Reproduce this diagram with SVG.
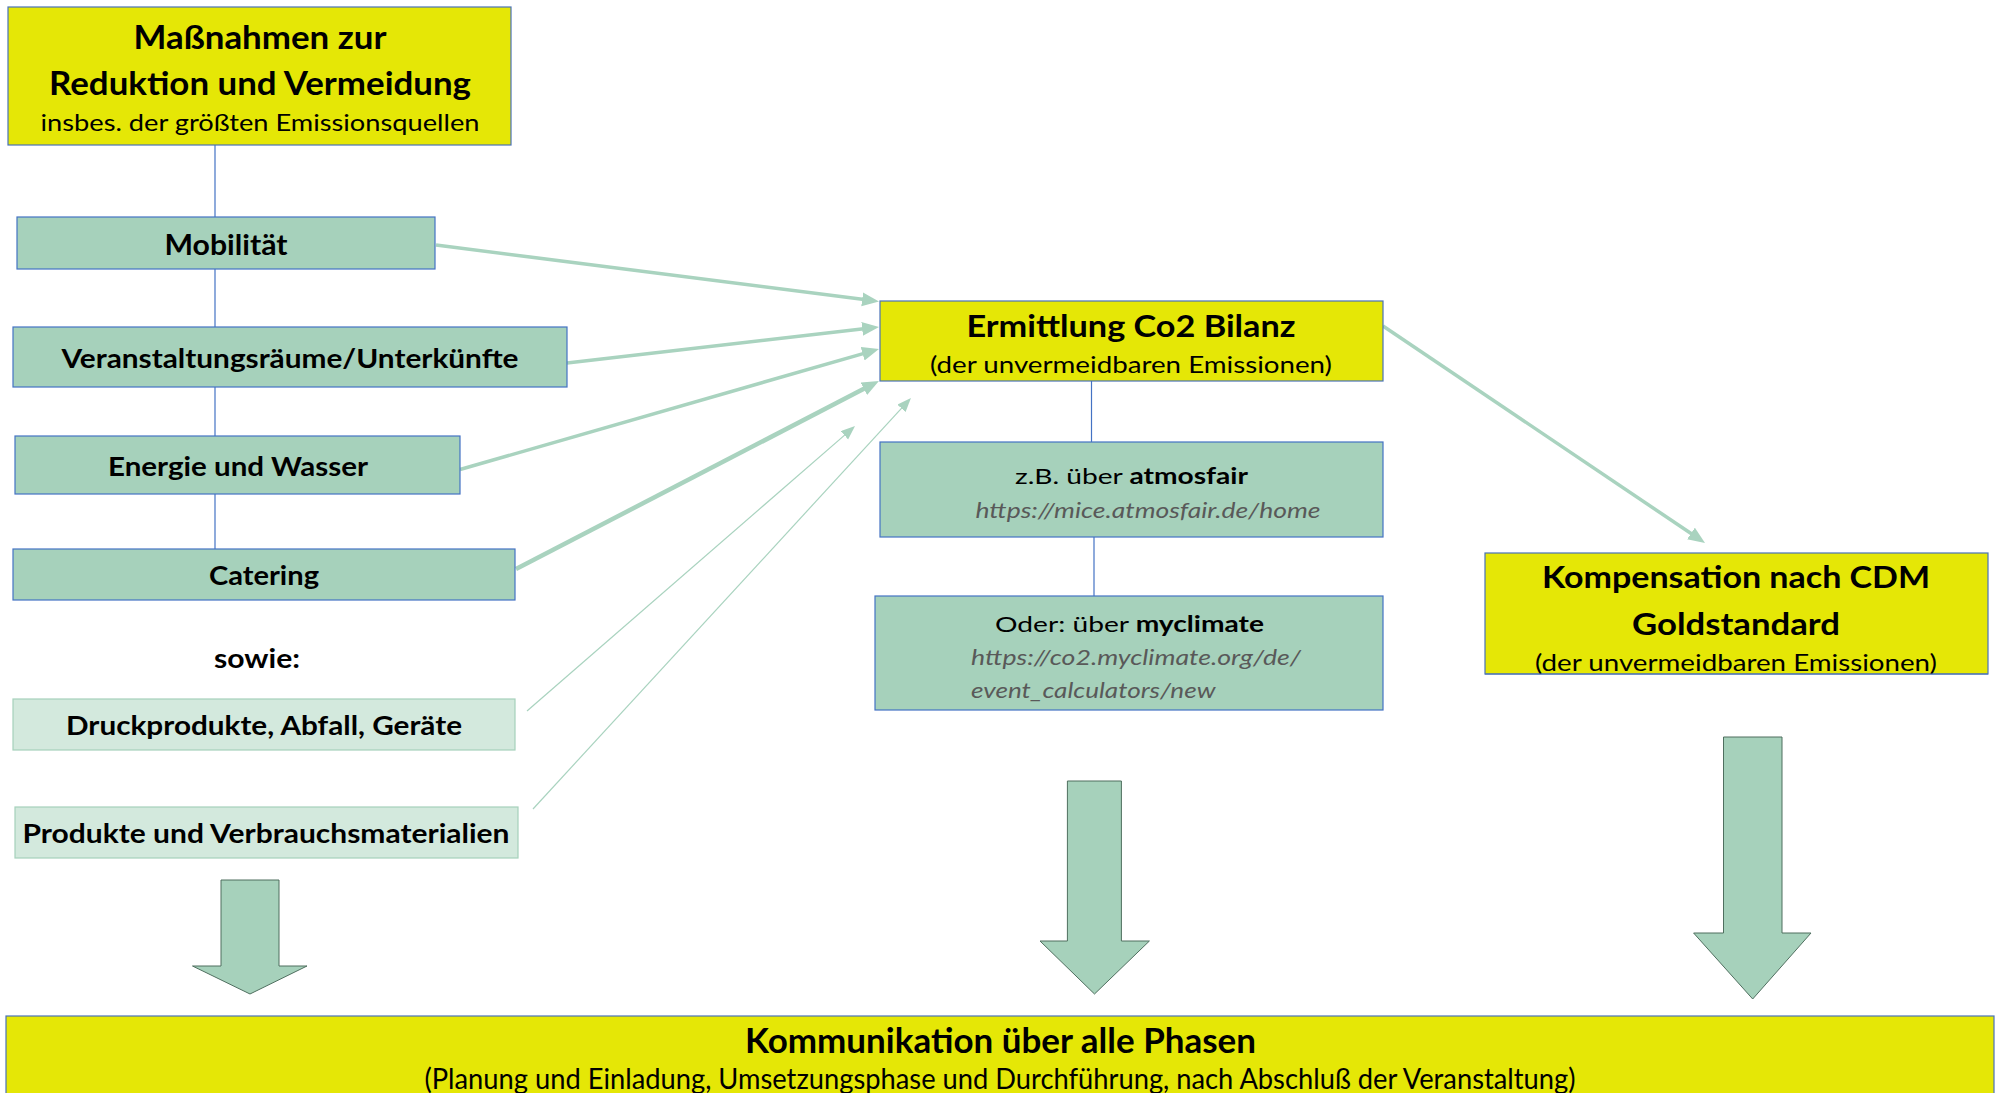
<svg xmlns="http://www.w3.org/2000/svg" width="1997" height="1093" viewBox="0 0 1997 1093">
<style>
text{font-family:Lato,"Liberation Sans",sans-serif;fill:#000;text-anchor:middle}
.b{font-weight:bold}
.y{fill:#E5E706;stroke:#4A72B8;stroke-width:1.2}
.g{fill:#A6D1BB;stroke:#4472C4;stroke-width:1.2}
.lg{fill:#D3E9DD;stroke:#A6D1BB;stroke-width:1.2}
.vl{stroke:#4472C4;stroke-width:1.2;fill:none}
.ar{stroke:#A9D3BF;fill:none}
.blk{fill:#A6D1BB;stroke:#4F6F5F;stroke-width:1}
.url{font-style:italic;fill:#595959}
</style>
<defs>
<marker id="ah" markerUnits="userSpaceOnUse" markerWidth="18" markerHeight="15" refX="6" refY="7" orient="auto"><path d="M0,0 L17,7 L0,14 z" fill="#A9D3BF"/></marker>
<marker id="ahs" markerUnits="userSpaceOnUse" markerWidth="15" markerHeight="12" refX="4" refY="5.5" orient="auto"><path d="M0,0 L14,5.5 L0,11 z" fill="#A9D3BF"/></marker>
<clipPath id="kclip"><rect x="1485" y="553" width="503" height="121"/></clipPath>
</defs>

<g id="connectors">
<line class="vl" x1="215" y1="145" x2="215" y2="549"/>
<line class="vl" x1="1091.5" y1="381" x2="1091.5" y2="442"/>
<line class="vl" x1="1094" y1="537" x2="1094" y2="596"/>
<line class="ar" stroke-width="3.5" x1="436" y1="245" x2="868.1" y2="300.1" marker-end="url(#ah)"/>
<line class="ar" stroke-width="3.5" x1="567" y1="363" x2="868.1" y2="328.2" marker-end="url(#ah)"/>
<line class="ar" stroke-width="3.5" x1="460" y1="469.5" x2="868.4" y2="352.1" marker-end="url(#ah)"/>
<line class="ar" stroke-width="4.5" x1="516" y1="569" x2="869.2" y2="386.1" marker-end="url(#ah)"/>
<line class="ar" stroke-width="1.2" x1="527" y1="711" x2="847.5" y2="432.6" marker-end="url(#ahs)"/>
<line class="ar" stroke-width="1.2" x1="533" y1="809" x2="904.2" y2="405.4" marker-end="url(#ahs)"/>
<line class="ar" stroke-width="3.5" x1="1383" y1="326" x2="1695.9" y2="536.8" marker-end="url(#ah)"/>
<polygon class="blk" points="221,880 279,880 279,966 307,966 250,994 192.5,966 221,966"/>
<polygon class="blk" points="1067.4,781 1121.4,781 1121.4,941 1149.4,941 1094.5,994 1040,941 1067.4,941"/>
<polygon class="blk" points="1723.5,737 1782,737 1782,933 1811,933 1752.7,999 1693.6,933 1723.5,933"/>
</g>

<g id="massnahmen">
<rect class="y" x="8" y="7" width="503" height="138"/>
<text class="b" x="260" y="49" font-size="32.5" textLength="253" lengthAdjust="spacingAndGlyphs">Maßnahmen zur</text>
<text class="b" x="260" y="95" font-size="32.5" textLength="422" lengthAdjust="spacingAndGlyphs">Reduktion und Vermeidung</text>
<text x="260" y="131" font-size="24" textLength="439" lengthAdjust="spacingAndGlyphs">insbes. der größten Emissionsquellen</text>
</g>

<g id="mobilitaet">
<rect class="g" x="17" y="217" width="418" height="52"/>
<text class="b" x="226" y="255" font-size="28" textLength="123" lengthAdjust="spacingAndGlyphs">Mobilität</text>
</g>

<g id="veranstaltungsraeume">
<rect class="g" x="13" y="327" width="554" height="60"/>
<text class="b" x="290" y="368" font-size="27.5" textLength="457" lengthAdjust="spacingAndGlyphs">Veranstaltungsräume/Unterkünfte</text>
</g>

<g id="energie">
<rect class="g" x="15" y="436" width="445" height="58"/>
<text class="b" x="238" y="476" font-size="27.5" textLength="260" lengthAdjust="spacingAndGlyphs">Energie und Wasser</text>
</g>

<g id="catering">
<rect class="g" x="13" y="549" width="502" height="51"/>
<text class="b" x="264" y="585" font-size="27.5" textLength="110" lengthAdjust="spacingAndGlyphs">Catering</text>
</g>

<g id="sowie">
<text class="b" x="257" y="668" font-size="27.5" textLength="86" lengthAdjust="spacingAndGlyphs">sowie:</text>
</g>

<g id="druckprodukte">
<rect class="lg" x="13" y="699" width="502" height="51"/>
<text class="b" x="264" y="735" font-size="27.5" textLength="396" lengthAdjust="spacingAndGlyphs">Druckprodukte, Abfall, Geräte</text>
</g>

<g id="produkte">
<rect class="lg" x="15" y="807" width="503" height="51"/>
<text class="b" x="266" y="843" font-size="27.5" textLength="487" lengthAdjust="spacingAndGlyphs">Produkte und Verbrauchsmaterialien</text>
</g>

<g id="ermittlung">
<rect class="y" x="880" y="301" width="503" height="80"/>
<text class="b" x="1131" y="337" font-size="31" textLength="329" lengthAdjust="spacingAndGlyphs">Ermittlung Co2 Bilanz</text>
<text x="1131" y="373" font-size="22.5" textLength="402" lengthAdjust="spacingAndGlyphs">(der unvermeidbaren Emissionen)</text>
</g>

<g id="atmosfair">
<rect class="g" x="880" y="442" width="503" height="95"/>
<text x="1131.5" y="484" font-size="22" textLength="233" lengthAdjust="spacingAndGlyphs">z.B. über <tspan class="b">atmosfair</tspan></text>
<text class="url" x="1148" y="518" font-size="22" textLength="345" lengthAdjust="spacingAndGlyphs">https://mice.atmosfair.de/home</text>
</g>

<g id="myclimate">
<rect class="g" x="875" y="596" width="508" height="114"/>
<text x="1129.5" y="632" font-size="22" textLength="269" lengthAdjust="spacingAndGlyphs">Oder: über <tspan class="b">myclimate</tspan></text>
<text class="url" x="971" y="665" font-size="22" style="text-anchor:start" textLength="330" lengthAdjust="spacingAndGlyphs">https://co2.myclimate.org/de/</text>
<text class="url" x="971" y="698" font-size="22" style="text-anchor:start" textLength="244.5" lengthAdjust="spacingAndGlyphs">event_calculators/new</text>
</g>

<g id="kompensation">
<rect class="y" x="1485" y="553" width="503" height="121"/>
<text class="b" x="1736" y="588" font-size="30.5" textLength="388" lengthAdjust="spacingAndGlyphs">Kompensation nach CDM</text>
<text class="b" x="1736" y="635" font-size="30.5" textLength="208" lengthAdjust="spacingAndGlyphs">Goldstandard</text>
<g clip-path="url(#kclip)">
<text x="1736" y="671" font-size="22.5" textLength="402" lengthAdjust="spacingAndGlyphs">(der unvermeidbaren Emissionen)</text>
</g>
<line x1="1485" y1="674" x2="1988" y2="674" stroke="#4A72B8" stroke-width="1.2"/>
</g>

<g id="kommunikation">
<rect class="y" x="6" y="1016" width="1988" height="90"/>
<text class="b" x="1000.5" y="1053" font-size="33.5" textLength="511" lengthAdjust="spacingAndGlyphs">Kommunikation über alle Phasen</text>
<text x="1000" y="1089" font-size="29" textLength="1151" lengthAdjust="spacingAndGlyphs">(Planung und Einladung, Umsetzungsphase und Durchführung, nach Abschluß der Veranstaltung)</text>
</g>
</svg>
